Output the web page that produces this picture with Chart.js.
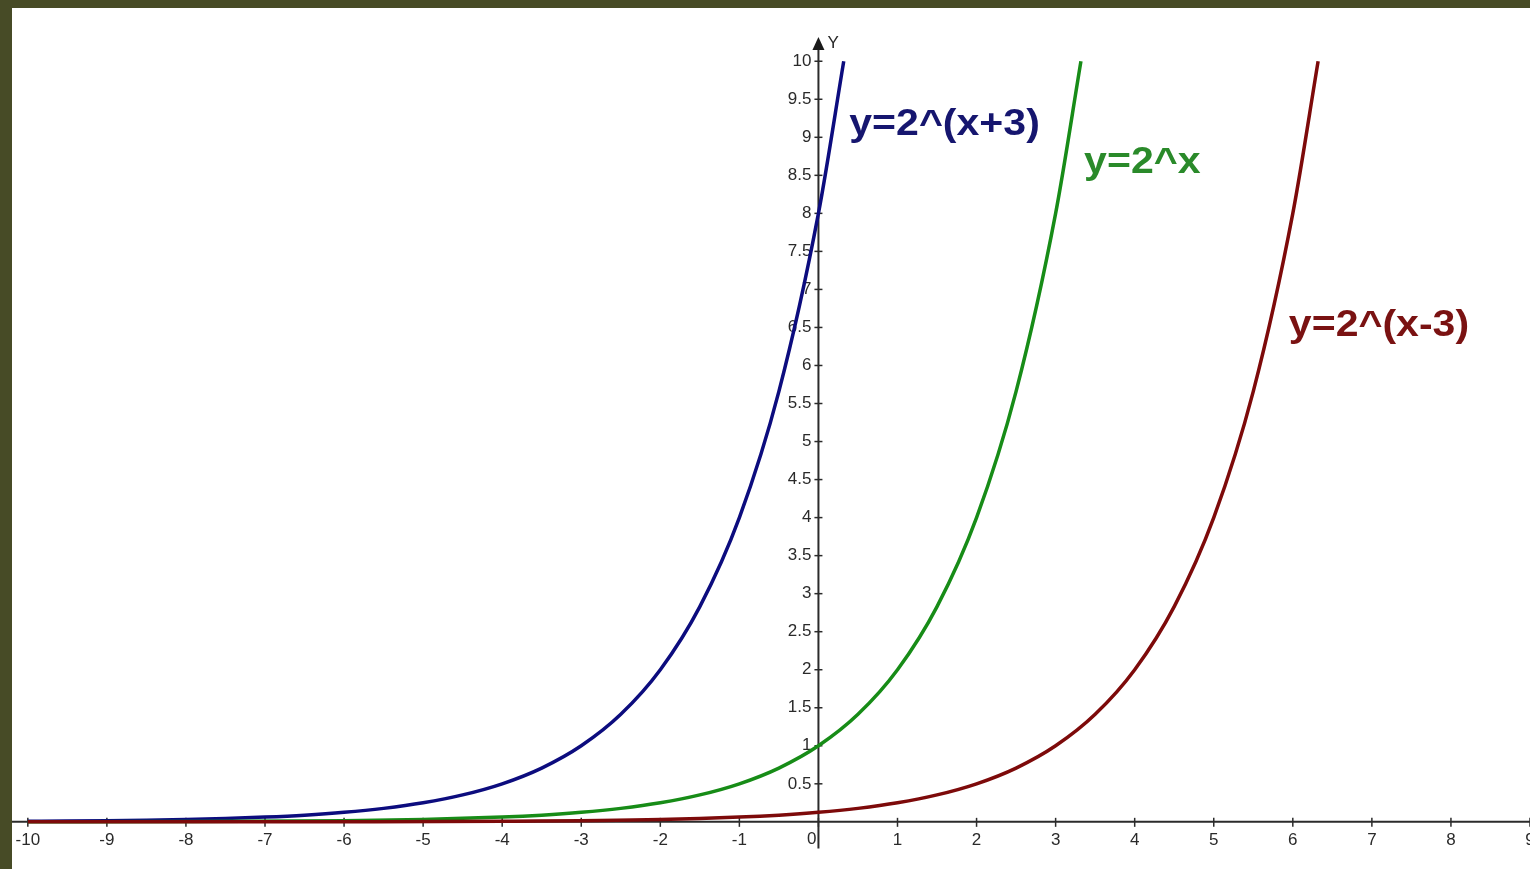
<!DOCTYPE html>
<html>
<head>
<meta charset="utf-8">
<script src="https://cdn.jsdelivr.net/npm/chart.js@4/dist/chart.umd.min.js"></script>
<style>
  html, body { margin: 0; padding: 0; background: #474b26; }
  #wrap { position: absolute; left: 12px; top: 8px; width: 1518px; height: 861px; background: #ffffff; }
</style>
</head>
<body>
<div id="wrap"><canvas id="myCanvas" width="1518" height="861"></canvas></div>
<script>
// curve points (y = 2^(x+3), 2^x, 2^(x-3))
var blueX  = [-10, -9.5, -9, -8.5, -8, -7.5, -7, -6.5, -6, -5.5, -5, -4.5, -4, -3.5, -3, -2.5, -2, -1.5, -1, -0.5, 0, 0.32];
var blueY  = [0.0078, 0.011, 0.0156, 0.022, 0.031, 0.044, 0.0625, 0.088, 0.125, 0.177, 0.25, 0.354, 0.5, 0.707, 1, 1.414, 2, 2.83, 4, 5.66, 8, 10];
var greenX = [-10, -8, -6, -5, -4, -3.5, -3, -2.5, -2, -1.5, -1, -0.5, 0, 0.5, 1, 1.5, 2, 2.5, 3, 3.32];
var greenY = [0.001, 0.0039, 0.0156, 0.031, 0.0625, 0.088, 0.125, 0.177, 0.25, 0.354, 0.5, 0.707, 1, 1.414, 2, 2.83, 4, 5.66, 8, 10];
var redX   = [-10, -6, -4, -2, -1, -0.5, 0, 0.5, 1, 1.5, 2, 2.5, 3, 3.5, 4, 4.5, 5, 5.5, 6, 6.32];
var redY   = [0.0001, 0.002, 0.0078, 0.031, 0.0625, 0.088, 0.125, 0.177, 0.25, 0.354, 0.5, 0.707, 1, 1.414, 2, 2.83, 4, 5.66, 8, 10];

var xTicks = [-10, -9, -8, -7, -6, -5, -4, -3, -2, -1, 0, 1, 2, 3, 4, 5, 6, 7, 8, 9];
var yTicks = [0.5, 1, 1.5, 2, 2.5, 3, 3.5, 4, 4.5, 5, 5.5, 6, 6.5, 7, 7.5, 8, 8.5, 9, 9.5, 10];

var curveNames = ['y=2^(x+3)', 'y=2^x', 'y=2^(x-3)'];
var nameAtX    = [0.39, 3.36, 5.95];
var nameAtY    = [9.16, 8.66, 6.52];

var lineColors = ['#0c0c7e', '#178c17', '#7d0a0a'];
var textColors = ['#16166f', '#2a8a2a', '#7a1212'];

function punti(xs, ys) {
    var out = [];
    for (var i = 0; i < xs.length; i++) {
        out.push({ x: xs[i], y: ys[i] });
    }
    return out;
}

var assi = {
    id: 'assi',
    beforeDatasetsDraw: function(chart) {
        var ctx = chart.ctx;
        var sx = chart.scales.x, sy = chart.scales.y;
        var x0 = sx.getPixelForValue(0);
        var y0 = sy.getPixelForValue(0);
        var top = sy.getPixelForValue(10.32);
        var bottom = sy.getPixelForValue(-0.35);
        ctx.save();
        ctx.strokeStyle = '#2b2b2b';
        ctx.fillStyle = '#1a1a1a';
        ctx.lineWidth = 2;
        // x axis
        ctx.beginPath();
        ctx.moveTo(chart.chartArea.left, y0);
        ctx.lineTo(chart.chartArea.right, y0);
        ctx.stroke();
        // y axis
        ctx.beginPath();
        ctx.moveTo(x0, bottom);
        ctx.lineTo(x0, top + 10);
        ctx.stroke();
        // arrow
        ctx.beginPath();
        ctx.moveTo(x0, top);
        ctx.lineTo(x0 - 6, top + 13);
        ctx.lineTo(x0 + 6, top + 13);
        ctx.closePath();
        ctx.fill();

        ctx.lineWidth = 1.5;
        xTicks.forEach(function(v) {
            var px = sx.getPixelForValue(v);
            ctx.beginPath();
            ctx.moveTo(px, y0 - 4);
            ctx.lineTo(px, y0 + 5);
            ctx.stroke();
        });
        yTicks.forEach(function(v) {
            var py = sy.getPixelForValue(v);
            ctx.beginPath();
            ctx.moveTo(x0 - 4, py);
            ctx.lineTo(x0 + 4, py);
            ctx.stroke();
        });

        ctx.font = '17px "Liberation Sans", Arial, sans-serif';
        ctx.fillStyle = '#2a2a2a';
        ctx.textBaseline = 'top';
        xTicks.forEach(function(v) {
            var px = sx.getPixelForValue(v);
            if (v === 0) {
                ctx.textAlign = 'right';
                ctx.fillText('0', px - 2, y0 + 9);
            } else {
                ctx.textAlign = 'center';
                ctx.fillText(String(v), px, y0 + 10);
            }
        });
        ctx.textAlign = 'right';
        ctx.textBaseline = 'middle';
        yTicks.forEach(function(v) {
            ctx.fillText(String(v), x0 - 7, sy.getPixelForValue(v));
        });
        ctx.textAlign = 'left';
        ctx.textBaseline = 'top';
        ctx.fillText('Y', x0 + 9, top - 2);
        ctx.restore();
    },
    afterDatasetsDraw: function(chart) {
        var ctx = chart.ctx;
        var sx = chart.scales.x, sy = chart.scales.y;
        ctx.save();
        ctx.font = 'bold 36px "Liberation Sans", Arial, sans-serif';
        ctx.textAlign = 'left';
        ctx.textBaseline = 'middle';
        for (var i = 0; i < curveNames.length; i++) {
            ctx.save();
            ctx.translate(sx.getPixelForValue(nameAtX[i]), sy.getPixelForValue(nameAtY[i]));
            ctx.scale(1.14, 1);
            ctx.fillStyle = textColors[i];
            ctx.fillText(curveNames[i], 0, 0);
            ctx.restore();
        }
        ctx.restore();
    }
};

var myCanvas = document.getElementById('myCanvas').getContext('2d');

var chart = new Chart(myCanvas, {
    type: 'line',
    data: {
        datasets: [{
            label: curveNames[2],
            data: punti(redX, redY),
            borderColor: lineColors[2],
        }, {
            label: curveNames[1],
            data: punti(greenX, greenY),
            borderColor: lineColors[1],
        }, {
            label: curveNames[0],
            data: punti(blueX, blueY),
            borderColor: lineColors[0],
        }]
    },
    options: {
        responsive: false,
        animation: false,
        layout: { padding: 0 },
        datasets: {
            line: {
                borderWidth: 3.5,
                pointRadius: 0,
                fill: false,
                cubicInterpolationMode: 'monotone'
            }
        },
        scales: {
            x: {
                type: 'linear',
                min: -10.2,
                max: 9,
                display: false
            },
            y: {
                type: 'linear',
                min: -0.62,
                max: 10.7,
                display: false
            }
        },
        plugins: {
            legend: { display: false },
            tooltip: { enabled: false }
        }
    },
    plugins: [assi]
});
</script>
</body>
</html>
